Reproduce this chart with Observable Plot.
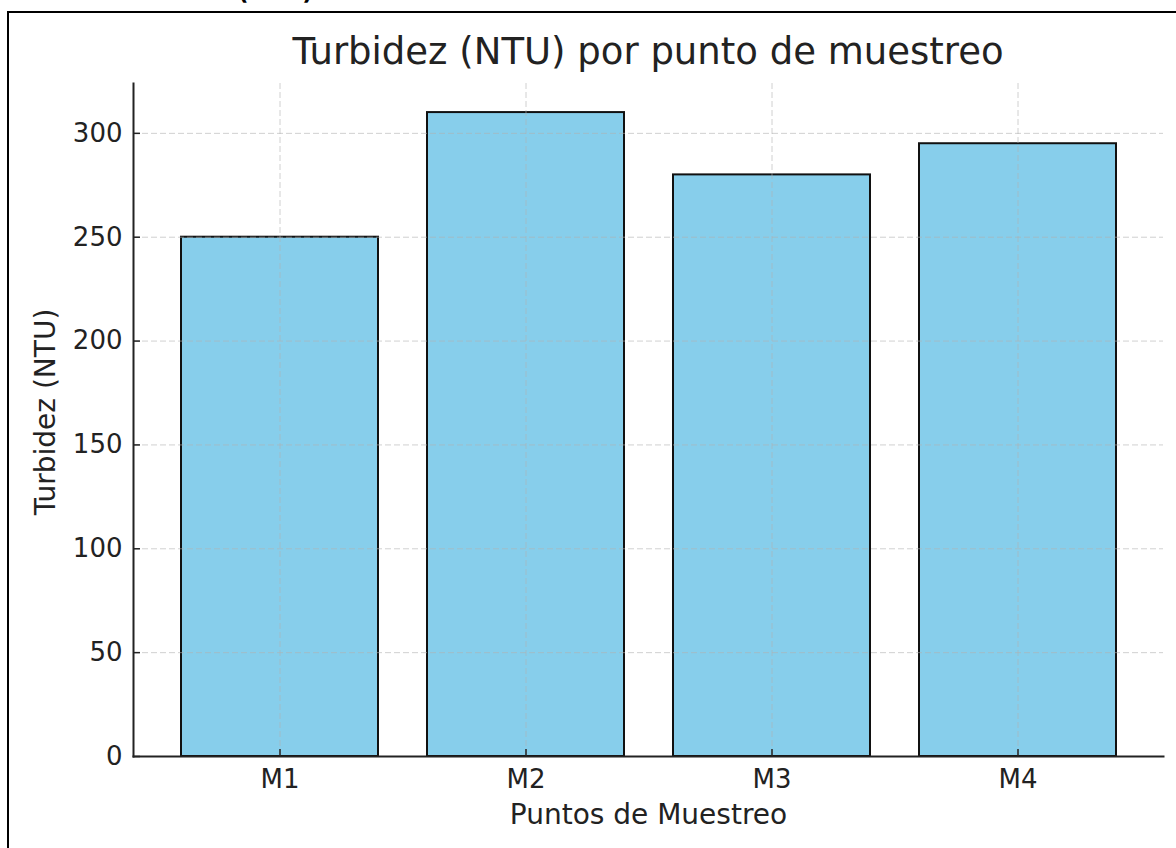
<!DOCTYPE html>
<html>
<head>
<meta charset="utf-8">
<script src="https://cdn.jsdelivr.net/npm/d3@7"></script>
<script src="https://cdn.jsdelivr.net/npm/@observablehq/plot@0.6"></script>
<style>
  html, body { margin: 0; padding: 0; background: #fff; overflow: hidden; }
  #page { position: relative; width: 1176px; height: 848px; overflow: hidden; font-family: "DejaVu Sans", sans-serif; color: #222; }
  #border { position: absolute; left: 7px; top: 11px; width: 3000px; height: 3000px; border-left: 2px solid #000; border-top: 2px solid #000; }
  #cut { position: absolute; left: 238px; top: -19px; font: bold 23px/23px "DejaVu Sans", sans-serif; color: #000; white-space: nowrap; }
  #title { position: relative; box-sizing: border-box; height: 75px; padding-top: 34px; margin: 0 13px 0 133px; text-align: center; font-size: 37px; line-height: 36px; font-weight: normal; color: #222; }
  #chart { position: relative; }
</style>
</head>
<body>
<div id="page">
  <div id="border"></div>
  <div id="cut">(NTU)</div>
  <div id="title">Turbidez (NTU) por punto de muestreo</div>
  <div id="chart"></div>
</div>
<script>
const categories = ["M1", "M2", "M3", "M4"];
const turbidity = [250, 310, 280, 295];
const yTicks = [0, 50, 100, 150, 200, 250, 300];
const xLabel = "Puntos de Muestreo";
const yLabel = "Turbidez (NTU)";

const data = categories.map((c, i) => ({punto: c, ntu: turbidity[i]}));

const W = 1176, H = 773;
const mL = 133, mR = 13, mT = 8, mB = 92;
const frameW = W - mL - mR, frameH = H - mT - mB;
const tickLen = 7;
const gridStyle = {stroke: "#b0b0b0", strokeOpacity: 0.6, strokeDasharray: "6,3", strokeWidth: 1};

const chart = Plot.plot({
  width: W,
  height: H,
  marginLeft: mL,
  marginRight: mR,
  marginTop: mT,
  marginBottom: mB,
  style: {fontFamily: "DejaVu Sans, sans-serif", fontSize: "26px", color: "#222", background: "transparent", overflow: "visible"},
  x: {domain: categories, paddingInner: 0.2, paddingOuter: 0.1865, label: null},
  y: {domain: [0, 324], label: null},
  marks: [
    Plot.barY(data, {x: "punto", y: "ntu", fill: "#87CEEB", stroke: "#111", strokeWidth: 2}),
    Plot.gridX({...gridStyle}),
    Plot.gridY(yTicks, {...gridStyle}),
    Plot.ruleY(yTicks, {insetRight: frameW - tickLen, stroke: "#222", strokeWidth: 1.5}),
    Plot.ruleX(categories, {insetTop: frameH - tickLen, stroke: "#222", strokeWidth: 1.5}),
    Plot.frame({anchor: "left", stroke: "#222", strokeWidth: 2}),
    Plot.frame({anchor: "bottom", stroke: "#222", strokeWidth: 2}),
    Plot.axisY(yTicks, {tickSize: 0, tickPadding: 11, fontSize: 26, label: null}),
    Plot.axisX({tickSize: 0, tickPadding: 13, fontSize: 26, label: null}),
    Plot.text([yLabel], {frameAnchor: "left", dx: -87, dy: -8, rotate: -90, textAnchor: "middle", lineAnchor: "middle", fontSize: 28, fill: "#222"}),
    Plot.text([xLabel], {frameAnchor: "bottom", dy: 59, textAnchor: "middle", lineAnchor: "middle", fontSize: 28, fill: "#222"})
  ]
});
document.getElementById("chart").appendChild(chart);
</script>
</body>
</html>
